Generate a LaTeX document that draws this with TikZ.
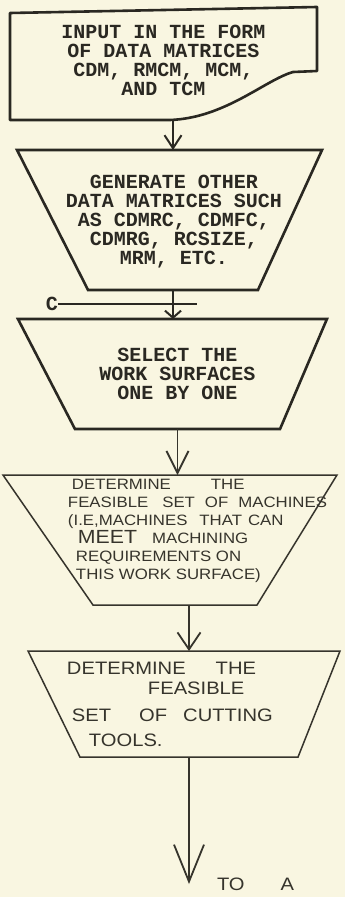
\documentclass[tikz,border=0pt]{standalone}
\usepackage{fontspec}
\newfontfamily\typefont{Liberation Mono}
\newfontfamily\handfont{Liberation Sans}[FakeStretch=1.12]
\usetikzlibrary{arrows.meta,positioning,calc,shapes.geometric}
\definecolor{paper}{HTML}{F9F6E1}
\definecolor{ink}{HTML}{2A2822}
\definecolor{pencil}{HTML}{36342C}
\tikzset{
  >={Straight Barb[length=13pt,width=17pt]},
  typed/.style={font=\typefont\bfseries\fontsize{20}{19}\selectfont,text=ink,align=center,inner sep=0pt,outer sep=0pt},
  hand/.style={font=\handfont\fontsize{15}{18}\selectfont,text=pencil,align=left,inner sep=0pt,outer sep=0pt},
  trap/.style={trapezium,shape border rotate=180,trapezium stretches body=true,draw=ink,line width=2.6pt,inner sep=0pt,outer sep=0pt},
  htrap/.style={trap,draw=pencil,line width=1.5pt},
  flow/.style={->,draw=ink,line width=2pt},
  hflow/.style={->,draw=pencil,line width=1.8pt},
}
\begin{document}
\begin{tikzpicture}[x=1pt,y=-1pt]
\useasboundingbox[fill=paper] (0,0) rectangle (345,897);
\node[typed,text depth=7pt,minimum width=307pt,minimum height=112pt] (in1) at (163.5,64) {INPUT IN THE FORM\\OF DATA MATRICES\\CDM, RMCM, MCM,\\AND TCM};
\draw[ink,line width=2.6pt,line join=round] ($(in1.north west)+(0,5)$) -- ($(in1.north east)+(0,-1)$) -- ($(in1.south east)+(0,-49)$) -- ($(in1.south east)+(-24,-48)$) .. controls ($(in1.south east)+(-52,-40)$) and ($(in1.south east)+(-92,-2)$) .. ($(in1.south east)+(-147,0)$) -- (in1.south west) -- cycle;
\node[trap,trapezium left angle=65.4,trapezium right angle=63.1,minimum width=305pt,below=30pt of in1,xshift=9.5pt] (gen) {\rule{0pt}{140pt}\hspace*{20pt}};
\node[trap,trapezium left angle=66.9,trapezium right angle=62.6,minimum width=309pt,below=29pt of gen,xshift=4.5pt] (sel) {\rule{0pt}{110pt}\hspace*{20pt}};
\node[htrap,trapezium left angle=58.4,trapezium right angle=55.3,minimum width=334pt,below=46pt of sel,xshift=-2.5pt] (mach) {\rule{0pt}{130pt}\hspace*{20pt}};
\node[htrap,trapezium left angle=68.4,trapezium right angle=63.9,minimum width=312pt,below=46pt of mach,xshift=14pt] (tool) {\rule{0pt}{106pt}\hspace*{20pt}};
\node[typed] (gentxt) at ($(gen.center)+(1,2)$) {GENERATE OTHER\\DATA MATRICES SUCH\\AS CDMRC, CDMFC,\\CDMRG, RCSIZE,\\MRM, ETC.};
\node[typed] (seltxt) at (sel.center) {SELECT THE\\WORK SURFACES\\ONE BY ONE};
\node[hand,anchor=west] (machtxt) at ($(mach.center)+(-107,-9)$) {\hspace*{4pt}DETERMINE\hspace{40pt}THE\\FEASIBLE\hspace{14pt}SET\hspace{10pt}OF\hspace{10pt}MACHINES\\(I.E,MACHINES\hspace{12pt}THAT\hspace{6pt}CAN\\\hspace*{10pt}{\fontsize{19}{18}\selectfont MEET}\hspace{15pt}MACHINING\\\hspace*{8pt}REQUIREMENTS ON\\\hspace*{8pt}THIS WORK SURFACE)};
\node[hand,font=\handfont\fontsize{18}{20}\selectfont,anchor=west] (tooltxt) at ($(tool.center)+(-122,0)$) {DETERMINE\hspace{30pt}THE\\\hspace*{81pt}FEASIBLE\\[7pt]\hspace*{5pt}SET\hspace{28pt}OF\hspace{16pt}CUTTING\\[5pt]\hspace*{22pt}TOOLS.};
\node[typed] (cin) at (52,304) {C};
\coordinate (cend) at (197,304);
\node[hand,font=\handfont\fontsize{18}{20}\selectfont,anchor=west] (toa) at ($(tool.south)+(28,127)$) {TO\hspace{36pt}A};
\draw[flow] (gen.north |- in1.south) -- (gen.north);
\draw[flow,-{Straight Barb[length=7pt,width=16pt]}] (gen.south) -- (gen.south |- sel.north);
\draw[ink,line width=2pt] (cin.east) -- (cend);
\draw[hflow,-{Straight Barb[length=22pt,width=22pt]}] (sel.south) -- (sel.south |- mach.north);
\draw[hflow,-{Straight Barb[length=17pt,width=23pt]}] (tool.north |- mach.south) -- (tool.north);
\draw[hflow,-{Straight Barb[length=37pt,width=30pt]}] (tool.south) -- (tool.south |- toa.west);
\end{tikzpicture}
\end{document}
